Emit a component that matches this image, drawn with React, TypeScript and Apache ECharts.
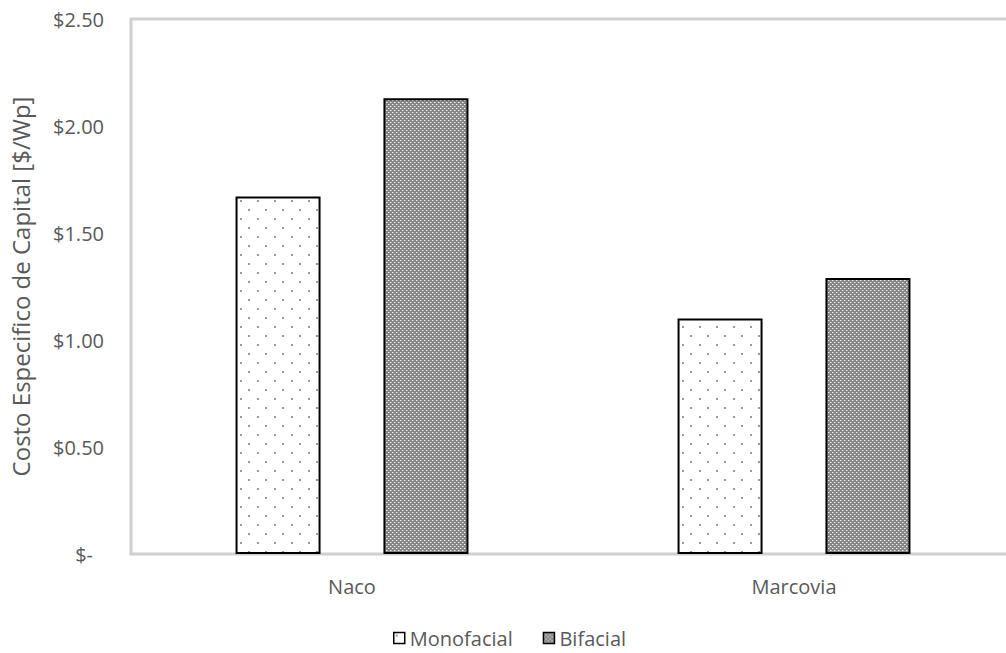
import React, { useEffect, useRef } from "react";
import * as echarts from "echarts";

const categories = ["Naco", "Marcovia"];
const monofacial = [1.67, 1.1];
const bifacial = [2.13, 1.29];
const seriesNames = ["Monofacial", "Bifacial"];
const yTicks = [0, 0.5, 1, 1.5, 2, 2.5];

const TEXT = "#595959";
const FONT = "'Open Sans', sans-serif";

// Sparse staggered dots on white
function dottedTile(): HTMLCanvasElement {
  const c = document.createElement("canvas");
  c.width = 17;
  c.height = 18;
  const g = c.getContext("2d")!;
  g.fillStyle = "#ffffff";
  g.fillRect(0, 0, 17, 18);
  g.fillStyle = "#9a9a9a";
  g.fillRect(2, 2, 2, 2);
  g.fillRect(10, 11, 2, 2);
  return c;
}

// Dense grey weave with light spots
function weaveTile(): HTMLCanvasElement {
  const c = document.createElement("canvas");
  c.width = 4;
  c.height = 4;
  const g = c.getContext("2d")!;
  g.fillStyle = "#858585";
  g.fillRect(0, 0, 4, 4);
  g.fillStyle = "#f0f0f0";
  g.fillRect(0, 0, 1, 1);
  g.fillRect(2, 2, 1, 1);
  g.fillStyle = "#b8b8b8";
  g.fillRect(1, 0, 1, 1);
  g.fillRect(3, 2, 1, 1);
  return c;
}

function money(v: number): string {
  if (v === 0) return "{z|$-}";
  return "$" + v.toFixed(2);
}

export default function App() {
  const ref = useRef<HTMLDivElement>(null);

  useEffect(() => {
    if (!ref.current) return;
    const chart = echarts.init(ref.current, undefined, { renderer: "svg" });
    const dots = { image: dottedTile(), repeat: "repeat" } as any;
    const weave = { image: weaveTile(), repeat: "repeat" } as any;

    chart.setOption({
      animation: false,
      textStyle: { fontFamily: FONT },
      grid: {
        left: 131,
        top: 19,
        right: -9,
        bottom: 99,
        show: true,
        borderColor: "#d0d0d0",
        borderWidth: 3,
        containLabel: false,
        outerBoundsMode: "none",
      },
      legend: {
        data: seriesNames,
        top: 623,
        left: 388,
        icon: "rect",
        itemWidth: 11,
        itemHeight: 11,
        itemGap: 30,
        textStyle: { color: TEXT, fontSize: 20, fontFamily: FONT },
        itemStyle: { borderWidth: 1.5, borderColor: "#000" },
      },
      xAxis: {
        type: "category",
        data: categories,
        axisLine: { show: false },
        axisTick: { show: false },
        axisLabel: { color: TEXT, fontSize: 20, fontFamily: FONT, margin: 22 },
      },
      yAxis: {
        type: "value",
        min: yTicks[0],
        max: yTicks[yTicks.length - 1],
        interval: 0.5,
        splitLine: { show: false },
        axisLine: { show: false },
        axisTick: { show: false },
        axisLabel: {
          color: TEXT,
          fontSize: 20,
          fontFamily: FONT,
          margin: 27,
          formatter: money,
          rich: { z: { color: TEXT, fontSize: 20, fontFamily: FONT, padding: [0, 11, 0, 0] } },
        },
        name: "Costo Especifico de Capital [$/Wp]",
        nameLocation: "middle",
        nameRotate: 90,
        nameGap: 99,
        nameTextStyle: { color: TEXT, fontSize: 24, fontFamily: FONT },
      },
      series: [
        {
          name: seriesNames[0],
          type: "bar",
          data: monofacial,
          barWidth: 85,
          barGap: "74%",
          itemStyle: { color: dots, borderColor: "#000", borderWidth: 2 },
        },
        {
          name: seriesNames[1],
          type: "bar",
          data: bifacial,
          barWidth: 85,
          barGap: "74%",
          itemStyle: { color: weave, borderColor: "#000", borderWidth: 2 },
        },
      ],
    });
    return () => chart.dispose();
  }, []);

  return <div ref={ref} style={{ width: 1006, height: 653, position: "absolute", left: 0, top: 0 }} />;
}
